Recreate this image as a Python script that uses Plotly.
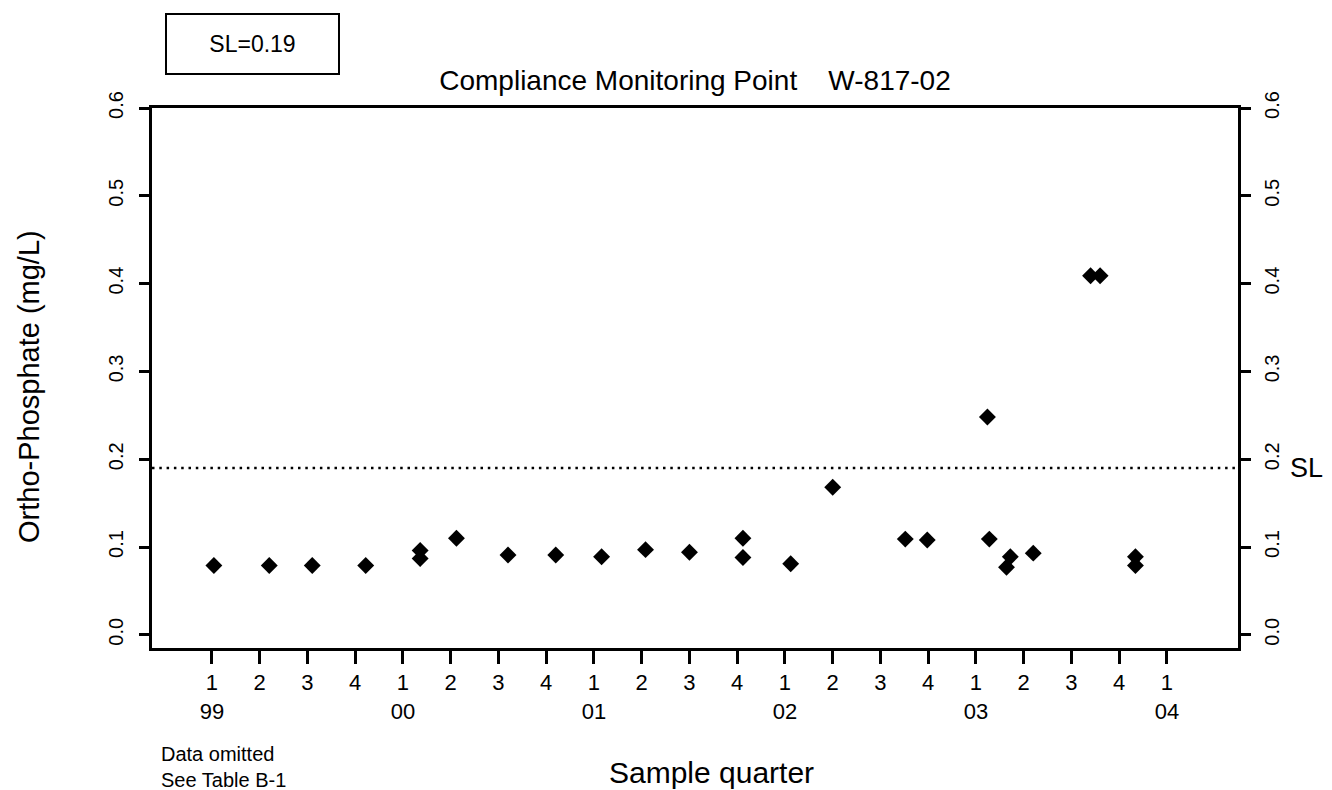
import plotly.graph_objects as go

# ---- data (sample time in decimal years, ortho-phosphate in mg/L) ----
sample_time = [1999.01, 1999.30, 1999.525, 1999.805, 2000.09, 2000.09, 2000.28,
               2000.55, 2000.80, 2001.04, 2001.27, 2001.50, 2001.78, 2001.78,
               2002.03, 2002.25, 2002.63, 2002.745, 2003.06, 2003.07, 2003.16,
               2003.18, 2003.30, 2003.60, 2003.65, 2003.835, 2003.835]
phosphate = [0.079, 0.079, 0.079, 0.079, 0.096, 0.087, 0.110,
             0.091, 0.091, 0.089, 0.097, 0.094, 0.110, 0.088,
             0.081, 0.168, 0.109, 0.108, 0.248, 0.109, 0.077,
             0.089, 0.093, 0.409, 0.409, 0.089, 0.079]
SL = 0.19

quarter_ticks = [1999.0 + 0.25 * i for i in range(21)]
quarter_labels = ["1", "2", "3", "4"] * 5 + ["1"]
year_labels = ["99", "00", "01", "02", "03", "04"]
y_ticks = [0.0, 0.1, 0.2, 0.3, 0.4, 0.5, 0.6]

ticktext = []
for i, q in enumerate(quarter_labels):
    if i % 4 == 0:
        ticktext.append(q + "<br>" + year_labels[i // 4])
    else:
        ticktext.append(q)

FONT = "Liberation Sans, Arial, sans-serif"
X_RANGE = [1998.686, 2004.372]
Y_RANGE = [-0.015, 0.6]

fig = go.Figure()
fig.add_trace(go.Scatter(
    x=sample_time, y=phosphate, mode="markers",
    marker=dict(symbol="diamond", size=13, color="black", line=dict(width=0)),
    showlegend=False, hoverinfo="x+y"))
# invisible trace to activate the right-hand axis
fig.add_trace(go.Scatter(x=[X_RANGE[0]], y=[SL], yaxis="y2", mode="markers",
                         marker=dict(opacity=0), showlegend=False, hoverinfo="skip"))

fig.add_shape(type="line", xref="paper", x0=0, x1=1, yref="y", y0=SL, y1=SL,
              line=dict(color="black", width=2.5, dash="2.5px,4.8px"))

axis_line = dict(showline=True, linecolor="black", linewidth=2.5,
                 showgrid=False, zeroline=False)

fig.update_layout(
    width=1332, height=790,
    margin=dict(l=144, r=102, t=100, b=150),
    paper_bgcolor="white", plot_bgcolor="white",
    font=dict(family=FONT, color="black", size=20),
    title=dict(text="Compliance Monitoring Point&nbsp;&nbsp;&nbsp;&nbsp;W-817-02",
               x=0.5, xref="paper", xanchor="center",
               y=1 - 72 / 790, yanchor="middle",
               font=dict(size=28, family=FONT)),
    xaxis=dict(range=X_RANGE, tickvals=quarter_ticks, ticktext=ticktext,
               ticks="outside", ticklen=13, tickwidth=2.5, tickcolor="black",
               mirror=True, tickfont=dict(size=22), **axis_line),
    yaxis=dict(range=Y_RANGE, tickvals=y_ticks, tickformat=".1f",
               ticks="outside", ticklen=10, tickwidth=2.5, tickcolor="black",
               tickangle=-90, tickfont=dict(size=20), ticklabelstandoff=8,
               **axis_line),
    yaxis2=dict(range=Y_RANGE, tickvals=y_ticks, tickformat=".1f",
                overlaying="y", side="right", anchor="x",
                ticks="outside", ticklen=10, tickwidth=2.5, tickcolor="black",
                tickangle=-90, tickfont=dict(size=20), ticklabelstandoff=4,
                **axis_line),
)

annotations = [
    dict(text="Ortho-Phosphate (mg/L)", xref="paper", yref="paper", x=0, y=0.5,
         xanchor="center", yanchor="middle", xshift=-123, yshift=-9,
         textangle=-90, showarrow=False, font=dict(size=29)),
    dict(text="Sample quarter", xref="paper", yref="paper", x=0.5, y=0,
         xanchor="center", yanchor="middle", xshift=16, yshift=-124,
         showarrow=False, font=dict(size=30)),
    dict(text="Data omitted<br>See Table B-1", xref="paper", yref="paper", x=0, y=0,
         xanchor="left", yanchor="top", align="left", xshift=7, yshift=-93,
         showarrow=False, font=dict(size=20)),
    dict(text="SL", xref="paper", yref="y", x=1, y=SL, xanchor="left",
         yanchor="middle", xshift=50, showarrow=False, font=dict(size=27)),
    dict(text="SL=0.19", xref="paper", yref="paper", x=0, y=1,
         xanchor="center", yanchor="middle", xshift=100, yshift=64,
         width=171, height=58, borderpad=0, bordercolor="black", borderwidth=2,
         showarrow=False, font=dict(size=23)),
]
fig.update_layout(annotations=annotations)

fig.write_html("out.html")
